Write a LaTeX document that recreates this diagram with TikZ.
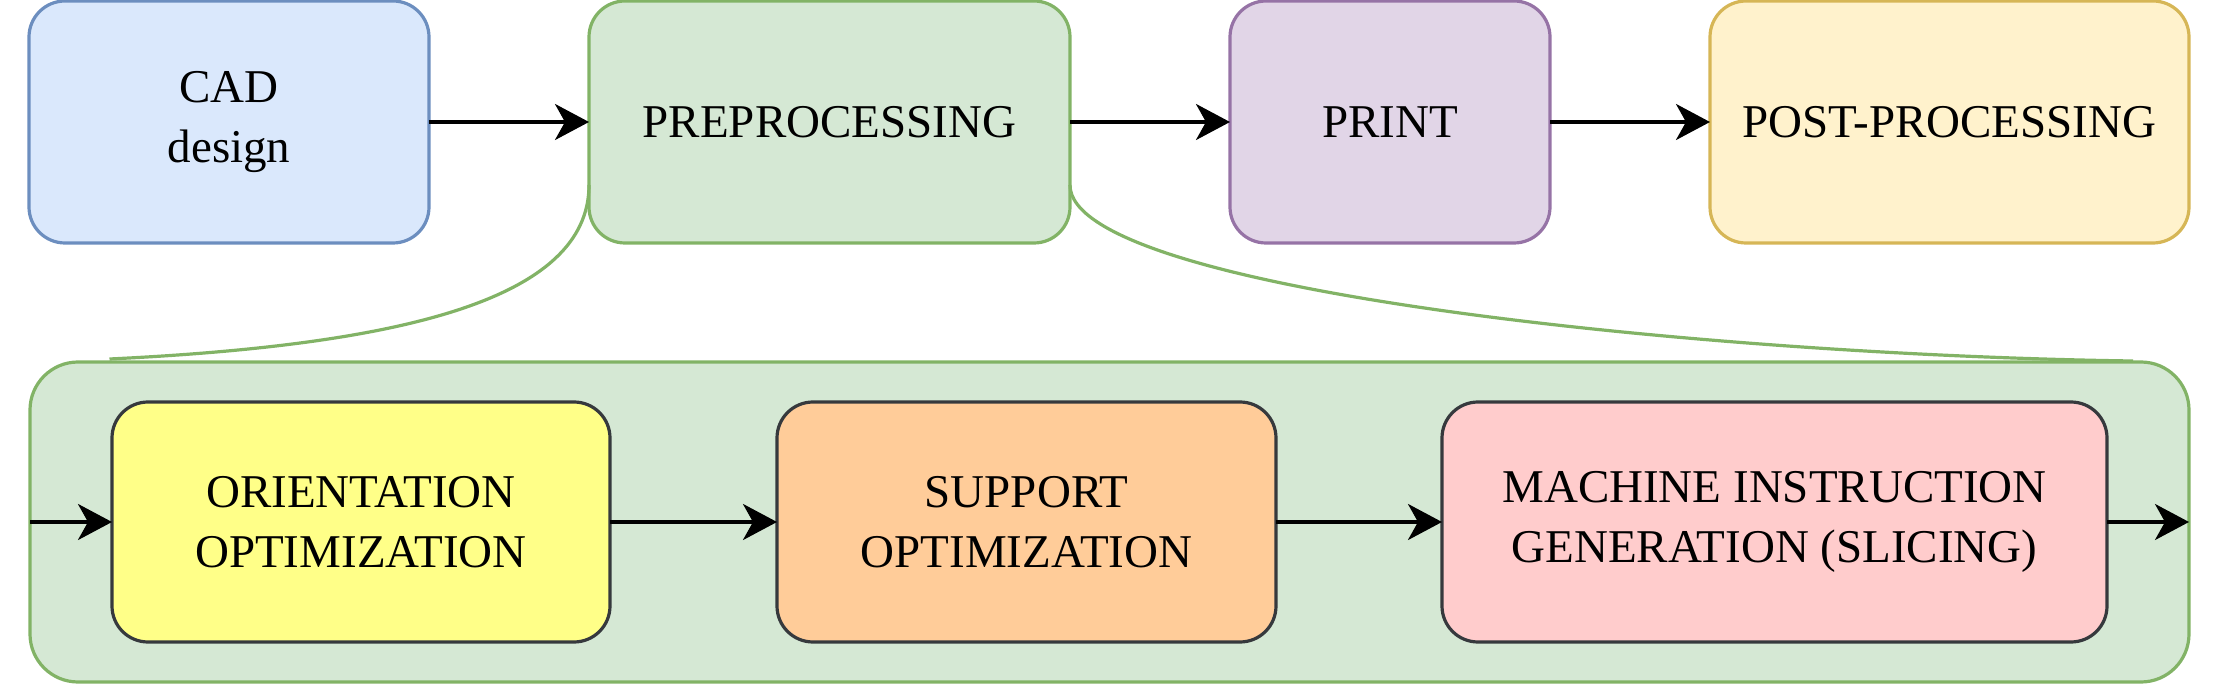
\documentclass[tikz,border=0pt]{standalone}
\usepackage{fontspec}
\setmainfont{Liberation Serif}
\usepackage{tikz}
\usetikzlibrary{arrows.meta,positioning,fit,backgrounds}
\definecolor{cadfill}{HTML}{DAE8FC}
\definecolor{cadline}{HTML}{6C8EBF}
\definecolor{prefill}{HTML}{D5E8D4}
\definecolor{preline}{HTML}{82B366}
\definecolor{printfill}{HTML}{E1D5E7}
\definecolor{printline}{HTML}{9673A6}
\definecolor{postfill}{HTML}{FFF2CC}
\definecolor{postline}{HTML}{D6B656}
\definecolor{orifill}{HTML}{FFFF88}
\definecolor{supfill}{HTML}{FFCC99}
\definecolor{macfill}{HTML}{FFCCCC}
\definecolor{innerline}{HTML}{36393D}

\begin{document}
\begin{tikzpicture}[
    x=0.5pt, y=-0.5pt,
    every node/.style={
        rounded corners=18pt, draw,
        line width=1.6pt,
        inner sep=0pt, outer sep=0pt,
        align=center,
        font=\fontsize{23.5}{30}\selectfont
    },
    stage/.style={minimum height=121pt},
    substage/.style={minimum height=120pt, draw=innerline},
    flow/.style={-{Stealth[length=17pt,width=18pt,inset=5pt]}, line width=1.7pt},
    spread/.style={draw=preline, line width=1.6pt}
]
\useasboundingbox (0,0) rectangle (2224,684);

% top row
\node[stage, minimum width=200pt, fill=cadfill, draw=cadline] (cad) at (229,122) {CAD\\design};
\node[stage, minimum width=240.5pt, fill=prefill, draw=preline, right=80pt of cad] (pre) {PREPROCESSING};
\node[stage, minimum width=160pt, fill=printfill, draw=printline, right=80pt of pre] (print) {PRINT};
\node[stage, minimum width=239.5pt, fill=postfill, draw=postline, right=80pt of print] (post) {POST-PROCESSING};

% preprocessing steps
\node[substage, minimum width=249pt, fill=orifill] (ori) at (361,522) {ORIENTATION\\OPTIMIZATION};
\node[substage, minimum width=249.5pt, fill=supfill, right=83.5pt of ori] (sup) {SUPPORT\\OPTIMIZATION};
\node[substage, minimum width=332.5pt, fill=macfill, right=83pt of sup] (mac) {MACHINE INSTRUCTION\\GENERATION (SLICING)};

\begin{scope}[on background layer]
\node[fit=(ori)(mac), inner xsep=41pt, inner ysep=20pt, rounded corners=24pt,
      fill=prefill, draw=preline] (stages) {};
\end{scope}

\draw[flow] (cad) -- (pre);
\draw[flow] (pre) -- (print);
\draw[flow] (print) -- (post);

\draw[flow] (stages.west) -- (ori.west);
\draw[flow] (ori) -- (sup);
\draw[flow] (sup) -- (mac);
\draw[flow] (mac.east) -- (stages.east);

% zoom lines
\draw[spread] ([yshift=-31.5pt]pre.west) .. controls (589,300) and (400,345) .. ([xshift=39.75pt,yshift=1.5pt]stages.north west);
\draw[spread] ([yshift=-31.5pt]pre.east) .. controls (1070,290) and (1700,355) .. ([xshift=-28pt,yshift=0.5pt]stages.north east);
\end{tikzpicture}
\end{document}
